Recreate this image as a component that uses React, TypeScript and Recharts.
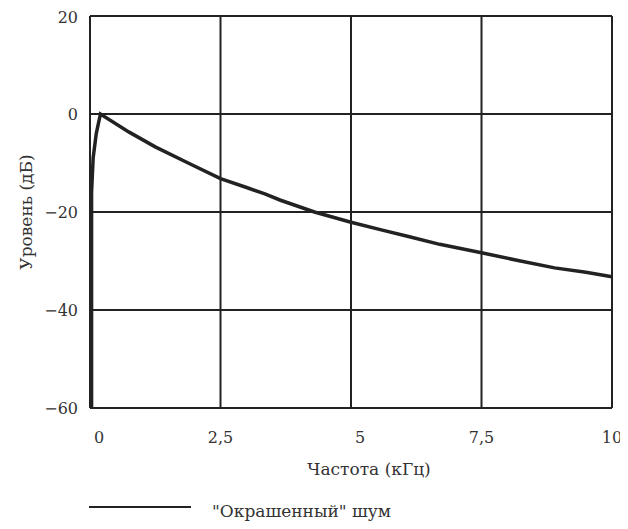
import { LineChart, Line, XAxis, YAxis, CartesianGrid, Legend, Label } from 'recharts';

const freq = [0.03, 0.03, 0.06, 0.12, 0.2, 0.75, 1.25, 1.9, 2.5, 3.0, 3.35, 3.65, 4.3, 5.0, 5.6, 6.1, 6.7, 7.5, 8.2, 8.9, 9.5, 10];
const level = [-60, -16, -9, -4, 0, -3.7, -6.7, -10.1, -13.2, -15.0, -16.3, -17.6, -20, -22.1, -23.7, -25.0, -26.6, -28.3, -29.9, -31.4, -32.3, -33.2];
const xTicks = [0, 2.5, 5, 7.5, 10];
const yTicks = [-60, -40, -20, 0, 20];
const seriesName = '"Окрашенный" шум';

const data = freq.map((f, i) => ({ f, level: level[i] }));

const font = 'DejaVu Serif';
const ink = '#222';
const textInk = '#333';

// single-digit labels sit a little to the right in the original
function FreqTick(props: any) {
  const { x, y, payload } = props;
  const label = String(payload.value).replace('.', ',');
  const shift = label.length === 1 ? 9 : 0;
  return (
    <text x={x + shift} y={y} dy={16} textAnchor="middle" fill={textInk} style={{ fontSize: 16, fontFamily: font }}>
      {label}
    </text>
  );
}

function NoiseLegend() {
  return (
    <div style={{ height: 47, position: 'relative', fontFamily: font, fontSize: 17, color: textInk }}>
      <div style={{ position: 'absolute', left: 81, top: 32, width: 102, height: 2, background: ink }} />
      <div style={{ position: 'absolute', left: 204, top: 27, lineHeight: '20px', whiteSpace: 'nowrap' }}>{seriesName}</div>
    </div>
  );
}

export default function App() {
  return (
    <LineChart
      width={620}
      height={521}
      data={data}
      margin={{ top: 8, right: 16, left: 0, bottom: 8 }}
    >
      <CartesianGrid stroke={ink} strokeWidth={2} />
      <XAxis
        dataKey="f"
        type="number"
        domain={[0, 10]}
        ticks={xTicks}
        tickLine={false}
        axisLine={{ stroke: ink, strokeWidth: 2 }}
        tickSize={17}
        tickMargin={2}
        height={66}
        tick={<FreqTick />}
      >
        <Label value="Частота (кГц)" position="insideBottom" offset={-1} dx={18} style={{ fill: textInk, fontSize: 17, fontFamily: font }} />
      </XAxis>
      <YAxis
        type="number"
        domain={[-60, 20]}
        ticks={yTicks}
        tickFormatter={(v: number) => String(v).replace('-', '\u2212')}
        tickLine={false}
        axisLine={{ stroke: ink, strokeWidth: 2 }}
        tickSize={10}
        tickMargin={2}
        width={82}
        tick={{ fill: textInk, style: { fontSize: 16, fontFamily: font } }}
      >
        <Label value="Уровень (дБ)" angle={-90} position="insideLeft" offset={18} style={{ fill: textInk, fontSize: 17, fontFamily: font, textAnchor: 'middle' }} />
      </YAxis>
      <Legend verticalAlign="bottom" content={() => <NoiseLegend />} />
      <Line
        type="linear"
        dataKey="level"
        name={seriesName}
        stroke={ink}
        strokeWidth={3.5}
        dot={false}
        isAnimationActive={false}
      />
    </LineChart>
  );
}
